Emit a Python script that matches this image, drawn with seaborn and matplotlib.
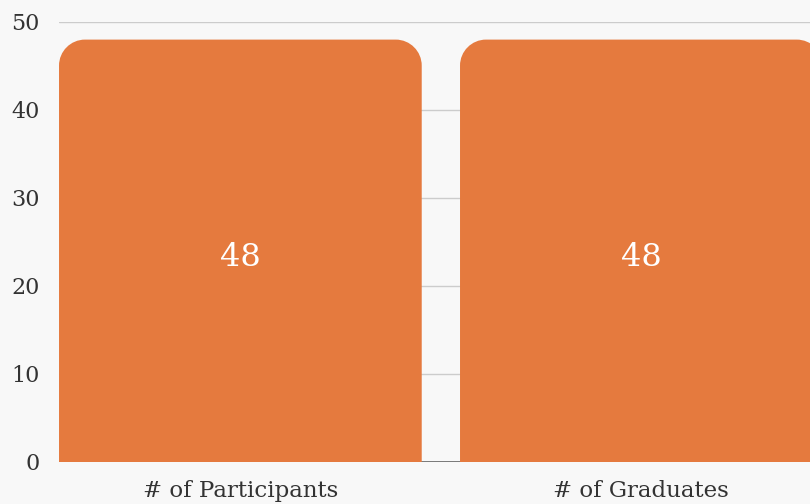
import matplotlib
matplotlib.use("Agg")
import matplotlib.pyplot as plt
import seaborn as sns
import pandas as pd
from matplotlib.path import Path
from matplotlib.patches import PathPatch
from matplotlib.transforms import offset_copy

categories = ["# of Participants", "# of Graduates"]
values = [48, 48]

bar_color = "#e57a3e"
bg_color = "#f8f8f8"


def rounded_top(x0, x1, y0, y1, rx, ry):
    # cubic bezier quarter circles for the two top corners
    k = 0.5523
    verts = [
        (x0, y0), (x0, y1 - ry),
        (x0, y1 - ry + k * ry), (x0 + rx - k * rx, y1), (x0 + rx, y1),
        (x1 - rx, y1),
        (x1 - rx + k * rx, y1), (x1, y1 - ry + k * ry), (x1, y1 - ry),
        (x1, y0), (x0, y0),
    ]
    codes = [Path.MOVETO, Path.LINETO,
             Path.CURVE4, Path.CURVE4, Path.CURVE4,
             Path.LINETO,
             Path.CURVE4, Path.CURVE4, Path.CURVE4,
             Path.LINETO, Path.CLOSEPOLY]
    return Path(verts, codes)


def main():
    sns.set_theme(style="whitegrid")
    plt.rcParams["font.family"] = ["DejaVu Serif", "Liberation Serif"]

    df = pd.DataFrame({"category": categories, "value": values})

    fig = plt.figure(figsize=(8.1, 5.04), dpi=100)
    fig.patch.set_facecolor(bg_color)
    ax = fig.add_axes([59 / 810, 42 / 504, 751 / 810, 440 / 504])
    ax.set_facecolor(bg_color)

    sns.barplot(data=df, x="category", y="value", color=bar_color,
                saturation=1, width=0.9045, ax=ax)

    ax.set_ylim(0, 50)
    ax.set_yticks(range(0, 51, 10))
    ax.set_xlim(-0.4523, -0.4523 + 751 / 401)

    # swap square bars for bars with rounded top corners
    rx = 26 / 401
    ry = 26 / 8.8
    label_tr = offset_copy(ax.transData, fig=fig, y=-5, units="points")
    for p in list(ax.patches):
        x0 = p.get_x()
        x1 = x0 + p.get_width()
        h = p.get_height()
        p.remove()
        ax.add_patch(PathPatch(rounded_top(x0, x1, 0, h, rx, ry),
                               facecolor=bar_color, edgecolor="none", zorder=2))
        ax.text(x0 + (x1 - x0) / 2, h / 2, f"{h:.0f}", color="white",
                fontsize=23, ha="center", va="center", zorder=3,
                transform=label_tr)

    ax.axhline(0, color="#666666", linewidth=1.2, zorder=1)
    ax.grid(axis="y", color="#cccccc", linewidth=1)
    ax.grid(axis="x", visible=False)
    ax.set_axisbelow(True)
    for s in ax.spines.values():
        s.set_visible(False)
    ax.tick_params(axis="y", length=0, pad=14, labelsize=16, labelcolor="#333333")
    ax.tick_params(axis="x", length=0, pad=13, labelsize=16.5, labelcolor="#333333")
    ax.set_xlabel("")
    ax.set_ylabel("")

    fig.savefig("out.png", dpi=100, facecolor=bg_color)


if __name__ == "__main__":
    main()
